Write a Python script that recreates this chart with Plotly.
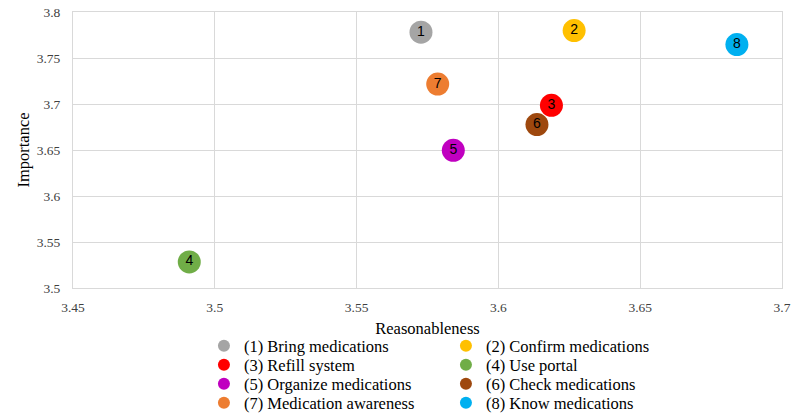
import plotly.graph_objects as go

labels = ["(1) Bring medications", "(2) Confirm medications", "(3) Refill system",
          "(4) Use portal", "(5) Organize medications", "(6) Check medications",
          "(7) Medication awareness", "(8) Know medications"]
numbers = ["1", "2", "3", "4", "5", "6", "7", "8"]
reasonableness = [3.5727, 3.6267, 3.6187, 3.491, 3.5841, 3.6136, 3.5786, 3.6841]
importance = [3.778, 3.7798, 3.6986, 3.5283, 3.6497, 3.6776, 3.7217, 3.7646]
colors = ["#a5a5a5", "#ffc000", "#ff0000", "#70ad47", "#c000c0", "#9e480e", "#ed7d31", "#00b0f0"]

x_ticks = [3.45, 3.5, 3.55, 3.6, 3.65, 3.7]
y_ticks = [3.5, 3.55, 3.6, 3.65, 3.7, 3.75, 3.8]

legend_ids = ["legend", "legend", "legend2", "legend2", "legend3", "legend3", "legend4", "legend4"]

fig = go.Figure()
for lab, num, xv, yv, c, lg in zip(labels, numbers, reasonableness, importance, colors, legend_ids):
    fig.add_trace(go.Scatter(
        x=[xv], y=[yv], mode="markers+text", name=lab, legend=lg,
        text=[num], textposition="middle center",
        textfont=dict(family="Liberation Sans", size=14, color="black"),
        marker=dict(size=23, color=c, line=dict(width=0)),
        hoverinfo="skip",
    ))

serif = "Liberation Serif, Times New Roman, serif"
grid = "#d9d9d9"

# plot area at x 73..782, y 12..288 of the 800x419 page
PLOT_BOTTOM = 288
PLOT_H = 276


def row_legend(ypx):
    return dict(
        orientation="h", x=0.526, xanchor="center", y=(PLOT_BOTTOM - ypx) / PLOT_H, yanchor="middle",
        entrywidth=197, itemsizing="constant", itemwidth=30,
        font=dict(family=serif, size=16.5, color="black"),
        bgcolor="rgba(0,0,0,0)",
    )


fig.update_layout(
    width=800, height=419,
    margin=dict(l=73, r=18, t=12, b=131, autoexpand=False),
    paper_bgcolor="white", plot_bgcolor="white",
    font=dict(family=serif, size=14, color="#404040"),
    showlegend=True,
    legend=row_legend(346),
    legend2=row_legend(365),
    legend3=row_legend(384),
    legend4=row_legend(403),
    xaxis=dict(
        range=[3.45, 3.7], tickvals=x_ticks, ticktext=[f"{v:g}" for v in x_ticks],
        showgrid=True, gridcolor=grid, gridwidth=1,
        showline=True, linecolor=grid, mirror=True, zeroline=False,
        ticks="", ticklabelstandoff=7,
        tickfont=dict(family=serif, size=13.5, color="#404040"),
        title=dict(text="Reasonableness", font=dict(family=serif, size=16.5, color="black"), standoff=8),
    ),
    yaxis=dict(
        range=[3.5, 3.8], tickvals=y_ticks, ticktext=[f"{v:g}" for v in y_ticks],
        showgrid=True, gridcolor=grid, gridwidth=1,
        showline=True, linecolor=grid, mirror=True, zeroline=False,
        ticks="outside", ticklen=9, tickcolor="rgba(0,0,0,0)",
        tickfont=dict(family=serif, size=13.5, color="#404040"),
        title=dict(text="Importance", font=dict(family=serif, size=16.5, color="black"), standoff=2),
    ),
)

fig.write_html("out.html", config={"displayModeBar": False},
               post_script="document.body.style.margin='0px';")
